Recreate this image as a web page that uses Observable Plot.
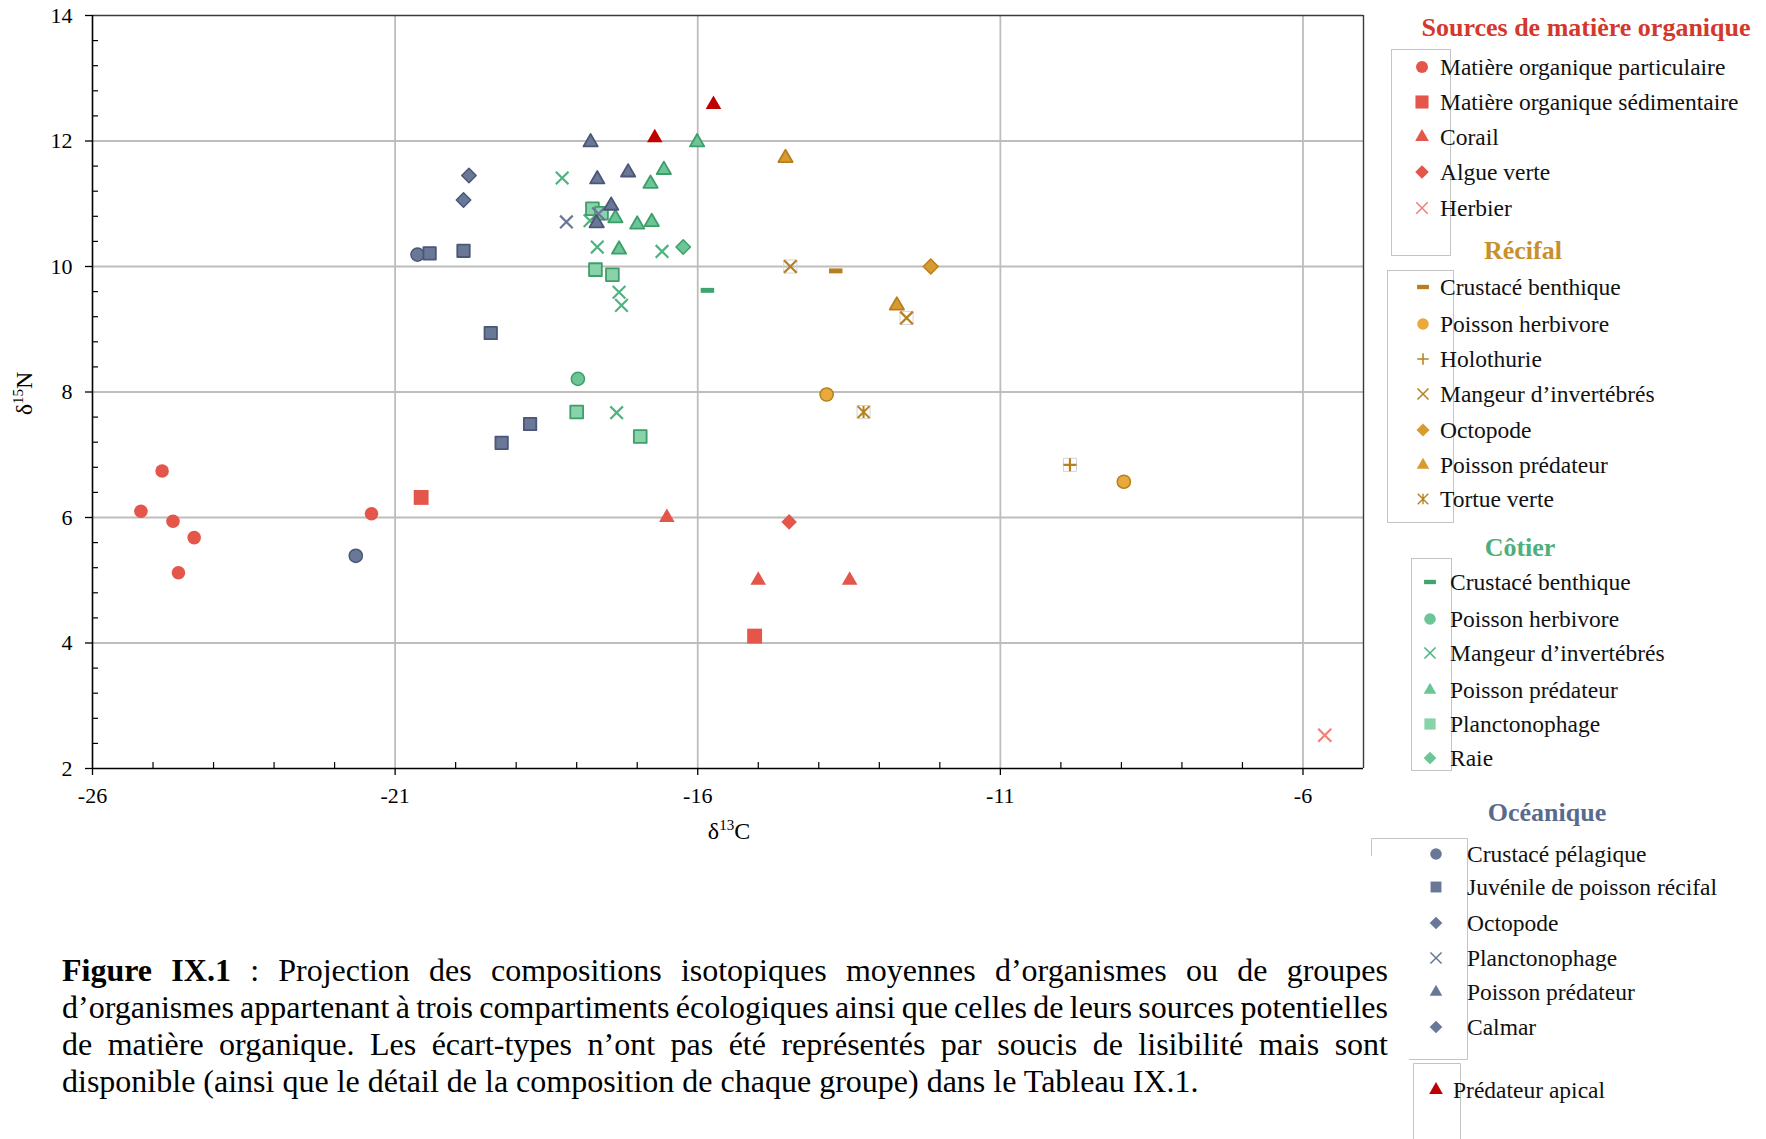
<!DOCTYPE html>
<html><head><meta charset="utf-8">
<script src="https://cdn.jsdelivr.net/npm/d3@7"></script>
<script src="https://cdn.jsdelivr.net/npm/@observablehq/plot@0.6"></script>
<style>
html,body{margin:0;padding:0;background:#fff;}
#page{position:relative;width:1766px;height:1139px;overflow:hidden;font-family:"Liberation Serif","Times New Roman",serif;color:#000;background:#fff;}
#page svg text{font-family:"Liberation Serif","Times New Roman",serif !important;font-size:22px !important;}
.abs{position:absolute;white-space:nowrap;}
.item{font-size:23.5px;line-height:28px;height:28px;color:#111;}
.title{font-size:26px;line-height:32px;font-weight:bold;text-align:center;width:420px;}
.cap{font-size:32px;line-height:36px;color:#000;}
</style></head><body><div id="page"></div>
<script>
// ---------- axes ----------
const xDomain = [-26, -5];
const yDomain = [2, 14];
const xTicks = [-26, -21, -16, -11, -6];
const yTicks = [2, 4, 6, 8, 10, 12, 14];
const xGrid = [-21, -16, -11, -6];
const yGrid = [4, 6, 8, 10, 12];
const xMinor = [-25, -24, -23, -22, -20, -19, -18, -17, -15, -14, -13, -12, -10, -9, -8, -7];
const yMinor = [2.4, 2.8, 3.2, 3.6, 4.4, 4.8, 5.2, 5.6, 6.4, 6.8, 7.2, 7.6, 8.4, 8.8, 9.2, 9.6,
                10.4, 10.8, 11.2, 11.6, 12.4, 12.8, 13.2, 13.6];

// ---------- data : [δ13C, δ15N] ----------
// Sources de matière organique
const srcParticulaire = [[-25.20, 6.10], [-24.85, 6.74], [-24.67, 5.94], [-24.32, 5.68], [-24.58, 5.12], [-21.39, 6.06]];
const srcSedimentaire = [[-20.57, 6.32], [-15.06, 4.11]];
const srcCorail = [[-16.51, 6.00], [-15.00, 5.00], [-13.49, 5.00]];
const srcAlgue = [[-14.49, 5.93]];
const srcHerbier = [[-5.64, 2.53]];
// Récifal
const reefCrustace = [[-13.72, 9.93]];
const reefHerbivore = [[-13.87, 7.96], [-8.96, 6.57]];
const reefHolothurie = [[-9.85, 6.84]];
const reefInvert = [[-14.47, 10.00], [-12.55, 9.18]];
const reefOctopode = [[-12.15, 10.00]];
const reefPredateur = [[-14.55, 11.73], [-12.71, 9.38]];
const reefTortue = [[-13.26, 7.68]];
// Côtier
const coastCrustace = [[-15.84, 9.62]];
const coastHerbivore = [[-17.98, 8.21]];
const coastInvert = [[-18.24, 11.41], [-17.78, 10.73], [-17.66, 10.31], [-16.59, 10.24], [-17.30, 9.59], [-17.26, 9.38], [-17.34, 7.67]];
const coastPredateur = [[-16.01, 11.98], [-16.56, 11.54], [-16.78, 11.32], [-17.36, 10.77], [-17.00, 10.67], [-16.76, 10.71], [-17.30, 10.27]];
const coastPlancton = [[-17.74, 10.92], [-17.59, 10.85], [-17.69, 9.95], [-17.41, 9.87], [-18.00, 7.68], [-16.95, 7.29]];
const coastRaie = [[-16.24, 10.31]];
// Océanique
const oceanCrustace = [[-20.63, 10.19], [-21.65, 5.39]];
const oceanJuvenile = [[-20.43, 10.21], [-19.87, 10.25], [-19.42, 8.94], [-19.24, 7.19], [-18.77, 7.49]];
const oceanOctopode = [[-19.78, 11.45]];
const oceanPlancton = [[-18.17, 10.71], [-17.64, 10.84]];
const oceanPredateur = [[-17.77, 11.98], [-17.66, 11.39], [-17.15, 11.50], [-17.43, 10.97], [-17.67, 10.69]];
const oceanCalmar = [[-19.87, 11.06]];
// Prédateur apical
const apex = [[-16.71, 12.05], [-15.74, 12.58]];

// ---------- legend texts ----------
const srcTitle = "Sources de matière organique";
const srcLabels = ["Matière organique particulaire", "Matière organique sédimentaire", "Corail", "Algue verte", "Herbier"];
const reefTitle = "Récifal";
const reefLabels = ["Crustacé benthique", "Poisson herbivore", "Holothurie", "Mangeur d’invertébrés", "Octopode", "Poisson prédateur", "Tortue verte"];
const coastTitle = "Côtier";
const coastLabels = ["Crustacé benthique", "Poisson herbivore", "Mangeur d’invertébrés", "Poisson prédateur", "Planctonophage", "Raie"];
const oceanTitle = "Océanique";
const oceanLabels = ["Crustacé pélagique", "Juvénile de poisson récifal", "Octopode", "Planctonophage", "Poisson prédateur", "Calmar"];
const apexLabel = "Prédateur apical";
const captionLines = [
  "<b>Figure IX.1</b> : Projection des compositions isotopiques moyennes d’organismes ou de groupes",
  "d’organismes appartenant à trois compartiments écologiques ainsi que celles de leurs sources potentielles",
  "de matière organique. Les écart-types n’ont pas été représentés par soucis de lisibilité mais sont",
  "disponible (ainsi que le détail de la composition de chaque groupe) dans le Tableau IX.1."
];

// ---------- styles ----------
const RED = "#E4564A", RED_LIGHT = "#F08078", APEX = "#C00000";
const GOLD_S = "#B7801F", GOLD_F = "#D99A2F", GOLD_C = "#E9A93B";
const GREEN_S = "#3E9E69", GREEN_F = "#6CC596", GREEN_SQ = "#88D3AA", GREEN_X = "#4DB37F", GREEN_D = "#3FA46F";
const SLATE_S = "#4A5776", SLATE_F = "#6A7898";

const symDash = {draw(c, size) { const s = Math.sqrt(size / Math.PI); c.rect(-1.5 * s, -0.55 * s, 3 * s, 1.1 * s); }};
const symAst = {draw(c, size) { const s = Math.sqrt(size / Math.PI) * 1.3;
  c.moveTo(-s, -s); c.lineTo(s, s); c.moveTo(-s, s); c.lineTo(s, -s); c.moveTo(0, -s); c.lineTo(0, s); }};

const S = {
  circle: d3.symbolCircle, square: d3.symbolSquare, triangle: d3.symbolTriangle,
  diamond: d3.symbolDiamond2, times: d3.symbolTimes, plus: d3.symbolPlus, dash: symDash, ast: symAst
};

// series list (draw order) with their style
const groups = [
  {data: srcParticulaire, sym: S.circle, r: 6.8, fill: RED, stroke: "none", sw: 0},
  {data: srcSedimentaire, sym: S.square, r: 8.4, fill: RED, stroke: "none", sw: 0},
  {data: srcCorail, sym: S.triangle, r: 5.8, fill: RED, stroke: "none", sw: 0},
  {data: srcAlgue, sym: S.diamond, r: 7.0, fill: RED, stroke: "none", sw: 0},
  {data: srcHerbier, sym: S.times, r: 6.0, fill: "none", stroke: RED_LIGHT, sw: 2.2},
  {data: reefCrustace, sym: S.dash, r: 4.5, fill: GOLD_S, stroke: "none", sw: 0},
  {data: reefHerbivore, sym: S.circle, r: 6.6, fill: GOLD_C, stroke: GOLD_S, sw: 1.5},
  {data: reefHolothurie, sym: S.plus, r: 4.3, fill: "none", stroke: GOLD_S, sw: 2.2, box: true},
  {data: reefInvert, sym: S.times, r: 5.8, fill: "none", stroke: GOLD_S, sw: 2.2, box: true},
  {data: reefOctopode, sym: S.diamond, r: 6.7, fill: GOLD_F, stroke: GOLD_S, sw: 1.5},
  {data: reefPredateur, sym: S.triangle, r: 5.3, fill: GOLD_F, stroke: GOLD_S, sw: 1.8},
  {data: reefTortue, sym: S.ast, r: 4.6, fill: "none", stroke: GOLD_S, sw: 2.0, box: true},
  {data: coastCrustace, sym: S.dash, r: 4.5, fill: GREEN_D, stroke: "none", sw: 0},
  {data: coastHerbivore, sym: S.circle, r: 6.6, fill: GREEN_F, stroke: GREEN_S, sw: 1.5},
  {data: coastInvert, sym: S.times, r: 5.8, fill: "none", stroke: GREEN_X, sw: 2.2},
  {data: coastPredateur, sym: S.triangle, r: 5.3, fill: GREEN_F, stroke: GREEN_S, sw: 1.8},
  {data: coastPlancton, sym: S.square, r: 7.2, fill: GREEN_SQ, stroke: GREEN_S, sw: 1.8},
  {data: coastRaie, sym: S.diamond, r: 6.5, fill: GREEN_F, stroke: GREEN_S, sw: 1.5},
  {data: oceanCrustace, sym: S.circle, r: 6.6, fill: SLATE_F, stroke: SLATE_S, sw: 1.5},
  {data: oceanJuvenile, sym: S.square, r: 7.0, fill: SLATE_F, stroke: SLATE_S, sw: 1.8},
  {data: oceanOctopode, sym: S.diamond, r: 6.5, fill: SLATE_F, stroke: SLATE_S, sw: 1.5},
  {data: oceanPlancton, sym: S.times, r: 5.8, fill: "none", stroke: SLATE_F, sw: 2.2},
  {data: oceanPredateur, sym: S.triangle, r: 5.3, fill: SLATE_F, stroke: SLATE_S, sw: 1.8},
  {data: oceanCalmar, sym: S.diamond, r: 6.5, fill: SLATE_F, stroke: SLATE_S, sw: 1.5},
  {data: apex, sym: S.triangle, r: 5.8, fill: APEX, stroke: "none", sw: 0}
];

// ---------- plot ----------
const W = 1370, H = 850, mL = 92, mR = 7, mT = 15, mB = 82;
const innerW = W - mL - mR, innerH = H - mT - mB;
const dotMarks = [];
for (const g of groups) {
  if (g.box) dotMarks.push(Plot.dot(g.data, {x: d => d[0], y: d => d[1], symbol: S.square, r: 7.4, fill: "none", stroke: "#d4d4d4", strokeWidth: 1}));
  dotMarks.push(Plot.dot(g.data, {x: d => d[0], y: d => d[1], symbol: g.sym, r: g.r, fill: g.fill,
    stroke: g.stroke, strokeWidth: g.sw, strokeLinejoin: "round"}));
}

const chart = Plot.plot({
  width: W, height: H, marginLeft: mL, marginRight: mR, marginTop: mT, marginBottom: mB,
  x: {domain: xDomain}, y: {domain: yDomain},
  style: {fontFamily: "'Liberation Serif','Times New Roman',serif", fontSize: "22px", color: "#000", background: "transparent", overflow: "visible"},
  marks: [
    Plot.gridX(xGrid, {stroke: "#bdbdbd", strokeOpacity: 1, strokeWidth: 1.8}),
    Plot.gridY(yGrid, {stroke: "#bdbdbd", strokeOpacity: 1, strokeWidth: 1.8}),
    Plot.ruleY([yDomain[1]], {stroke: "#3a3a3a", strokeWidth: 1.4}),
    Plot.ruleX([xDomain[1]], {stroke: "#3a3a3a", strokeWidth: 1.4}),
    Plot.ruleX(xMinor, {stroke: "#000", strokeWidth: 1.2, insetTop: innerH - 6}),
    Plot.ruleY(yMinor, {stroke: "#000", strokeWidth: 1.2, insetRight: innerW - 6}),
    Plot.ruleX([xDomain[0]], {stroke: "#000", strokeWidth: 1.6}),
    Plot.ruleY([yDomain[0]], {stroke: "#000", strokeWidth: 1.6}),
    Plot.axisX(xTicks, {tickSize: 7, tickPadding: 12, strokeWidth: 1.3, tickFormat: d => String(d), label: null, fontSize: 22}),
    Plot.axisY(yTicks, {tickSize: 7, tickPadding: 13, strokeWidth: 1.3, tickFormat: d => String(d), label: null, fontSize: 22}),
    ...dotMarks
  ]
});
const page = document.getElementById("page");
chart.style.position = "absolute"; chart.style.left = "0px"; chart.style.top = "0px";
page.appendChild(chart);

// ---------- axis titles ----------
function addDiv(html, cls, css) {
  const d = document.createElement("div");
  d.className = "abs " + (cls || "");
  d.innerHTML = html;
  Object.assign(d.style, css);
  page.appendChild(d);
  return d;
}
addDiv('δ<span style="font-size:15px;position:relative;top:-9px">13</span>C', "", {left: "669px", top: "816px", width: "120px", textAlign: "center", fontSize: "24px", lineHeight: "30px"});
addDiv('δ<span style="font-size:15px;position:relative;top:-9px">15</span>N', "", {left: "-35px", top: "377px", width: "120px", textAlign: "center", fontSize: "24px", lineHeight: "30px", transform: "rotate(-90deg)"});

// ---------- legend ----------
const lsvg = d3.select(page).append("svg").attr("width", 1766).attr("height", 1139)
  .style("position", "absolute").style("left", "0px").style("top", "0px").style("pointer-events", "none");
const boxStroke = "#c4c4c4";
function legendBox(x, y, w, h) {
  lsvg.append("rect").attr("x", x + 0.5).attr("y", y + 0.5).attr("width", w).attr("height", h)
    .attr("fill", "none").attr("stroke", boxStroke).attr("stroke-width", 1);
}
function legendMarker(g, cx, cy) {
  const k = 0.88;
  lsvg.append("path").attr("transform", `translate(${cx},${cy})`)
    .attr("d", d3.symbol(g.sym, Math.PI * (g.r * k) * (g.r * k))())
    .attr("fill", g.fill)
    .attr("stroke", g.fill === "none" ? g.stroke : "none")
    .attr("stroke-width", g.fill === "none" ? Math.max(1.4, g.sw * 0.7) : 0);
}
function legendBlock(title, color, tcx, tcy, labels, gs, mx, tx, ys) {
  if (title) addDiv(title, "title", {left: (tcx - 210) + "px", top: (tcy - 16) + "px", color});
  labels.forEach((lab, i) => {
    legendMarker(gs[i], mx, ys[i]);
    addDiv(lab, "item", {left: tx + "px", top: (ys[i] - 14) + "px"});
  });
}
legendBox(1391, 49, 59, 206);
legendBlock(srcTitle, "#D4382C", 1586, 28, srcLabels, groups.slice(0, 5), 1422, 1440, [67, 102, 137, 172, 208]);
legendBox(1387, 270, 66, 252);
const reefLegendGroups = [groups[5], groups[6], groups[7], groups[8], groups[9], groups[10], groups[11]];
legendBlock(reefTitle, "#C8902C", 1523, 251, reefLabels, reefLegendGroups, 1423, 1440, [287, 324, 359, 394, 430, 465, 499]);
legendBox(1411, 558, 40, 212);
legendBlock(coastTitle, "#4DAF7C", 1520, 548, coastLabels, groups.slice(12, 18), 1430, 1450, [582, 619, 653, 690, 724, 758]);
// Océanique box (partly hidden, as in the original)
lsvg.append("path").attr("d", "M1371.5,856V838.5H1467.5V1059.5H1409").attr("fill", "none").attr("stroke", boxStroke);
legendBlock(oceanTitle, "#5A6A8C", 1547, 813, oceanLabels, groups.slice(18, 24), 1436, 1467, [854, 887, 923, 958, 992, 1027]);
lsvg.append("path").attr("d", "M1413.5,1139V1063.5H1460.5V1139").attr("fill", "none").attr("stroke", boxStroke);
legendBlock(null, null, 0, 0, [apexLabel], [groups[24]], 1436, 1453, [1090]);

// ---------- caption ----------
const capLeft = 62, capWidth = 1326, capTops = [952, 989, 1026, 1063];
captionLines.forEach((html, i) => {
  const d = addDiv(html, "cap", {left: capLeft + "px", top: capTops[i] + "px"});
  if (i < 3) {
    const w = d.getBoundingClientRect().width;
    const n = (d.textContent.match(/ /g) || []).length;
    d.style.wordSpacing = ((capWidth - w) / n) + "px";
  }
});
</script>
</body></html>
